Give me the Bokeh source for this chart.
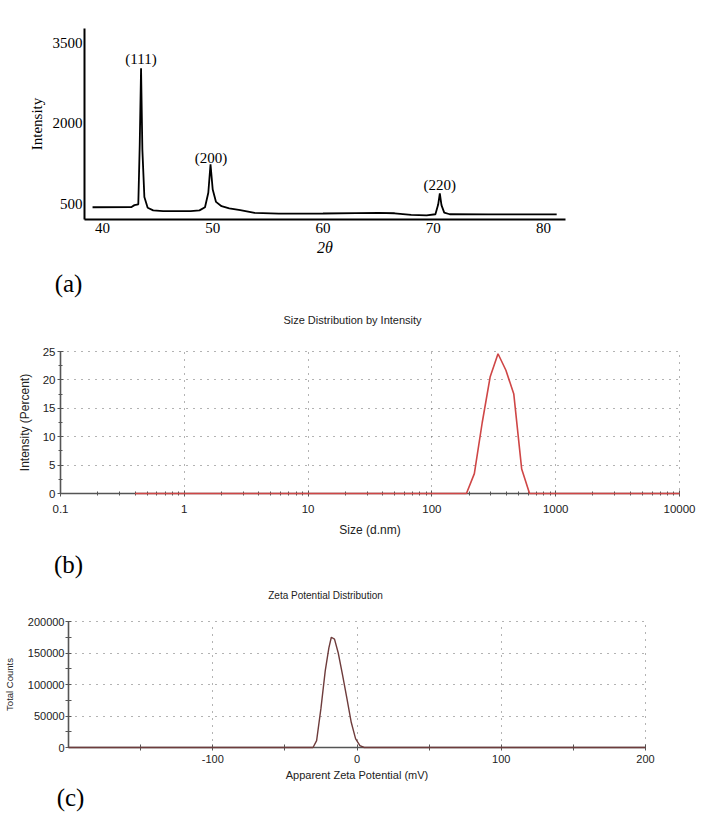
from bokeh.plotting import figure
from bokeh.models import Range1d, FixedTicker, CustomJSTickFormatter
from bokeh.embed import file_html
from bokeh.resources import INLINE
from bokeh.core.properties import value

# ---------------- data ----------------
# (a) XRD pattern
xrd_two_theta = [39.1, 42.6, 42.9, 43.25, 43.38, 43.5, 43.62, 43.8, 44.1, 44.6, 45.5, 48.0,
                 48.8, 49.3, 49.6, 49.8, 50.0, 50.3, 50.8, 51.5, 52.5, 53.8, 56.0, 60.0,
                 63.0, 65.0, 66.5, 68.0, 69.4, 70.2, 70.45, 70.6, 70.75, 71.0, 71.5, 75.0, 81.2]
xrd_intensity = [430, 432, 470, 485, 1600, 3020, 1500, 620, 420, 372, 357, 358,
                 372, 430, 700, 1230, 760, 530, 450, 410, 375, 325, 312, 314,
                 322, 326, 318, 290, 278, 300, 480, 690, 470, 330, 300, 296, 296]
xrd_peak_labels = ["(111)", "(200)", "(220)"]
xrd_peak_label_x = [43.5, 49.85, 70.6]
xrd_peak_label_y = [3185, 1340, 840]
xrd_x_ticks = [40, 50, 60, 70, 80]
xrd_y_ticks = [500, 2000, 3500]

# (b) DLS size distribution
size_nm = [0.4, 190.1, 220.2, 255.0, 295.3, 342.0, 396.1, 458.7, 531.2, 615.1, 10000]
size_intensity = [0, 0, 3.5, 12.5, 20.5, 24.6, 21.7, 17.5, 4.3, 0, 0]
size_ticks = [0.1, 1, 10, 100, 1000, 10000]
size_minor_ticks = [m * d for d in [0.1, 1, 10, 100, 1000] for m in range(2, 10)]
size_y_ticks = [0, 5, 10, 15, 20, 25]
size_y_minor = [2.5, 7.5, 12.5, 17.5, 22.5]

# (c) zeta potential distribution
zeta_mv = [-200, -30.5, -28, -25, -22, -19.5, -17.8, -15.6, -13, -10, -7, -4, -1, 2, 5, 200]
zeta_counts = [0, 0, 11000, 62000, 122000, 158000, 175000, 172000, 150000, 115000,
               78000, 40000, 14000, 3000, 0, 0]
zeta_x_ticks = [-100, 0, 100, 200]
zeta_x_minor = [-150, -50, 50, 150]
zeta_y_ticks = [0, 50000, 100000, 150000, 200000]
zeta_y_minor = [25000, 75000, 125000, 175000]

panel_letters = ["(a)", "(b)", "(c)"]
title_b = "Size Distribution by Intensity"
title_c = "Zeta Potential Distribution"

SERIF = "Liberation Serif"
SANS = "Liberation Sans"
W = 709
PLAIN = CustomJSTickFormatter(code="return tick.toString()")


def strip(h):
    f = figure(width=W, height=h, x_range=Range1d(0, W), y_range=Range1d(h, 0),
               x_axis_type=None, y_axis_type=None, output_backend="svg",
               toolbar_location=None, min_border=0)
    f.outline_line_color = None
    return f


def style_instrument_axes(fig, tick_size, out_minor):
    for ax in (fig.xaxis[0], fig.yaxis[0]):
        ax.axis_line_color = "#555555"
        ax.axis_line_width = 1.6
        ax.major_tick_line_color = "#555555"
        ax.minor_tick_line_color = "#555555"
        ax.major_tick_in = 3
        ax.major_tick_out = 3
        ax.minor_tick_in = out_minor
        ax.minor_tick_out = out_minor
        ax.major_label_text_font = SANS
        ax.major_label_text_font_size = tick_size
        ax.major_label_text_color = "#222222"
        ax.axis_label_text_font = SANS
        ax.axis_label_text_font_style = "normal"
        ax.axis_label_text_color = "#222222"
    for g in (fig.xgrid[0], fig.ygrid[0]):
        g.grid_line_color = "#666666"
        g.grid_line_dash = "1 6"
        g.grid_line_width = 1
    fig.outline_line_color = "#666666"
    fig.outline_line_dash = "1 6"
    fig.outline_line_width = 1


# ---------------- panel (a) : page y 0..262 ----------------
pa = figure(width=W, height=262, x_range=Range1d(38.37, 82.0), y_range=Range1d(202, 3761),
            output_backend="svg", toolbar_location=None,
            min_border_left=84, min_border_right=144, min_border_top=28, min_border_bottom=43)
pa.outline_line_color = None
pa.grid.visible = False
pa.line(xrd_two_theta, xrd_intensity, line_color="black", line_width=1.8)
pa.text(x=xrd_peak_label_x, y=xrd_peak_label_y, text=xrd_peak_labels,
        text_font=value(SERIF), text_font_size="15px", text_align="center",
        text_baseline="middle", text_color="black")
for ax in (pa.xaxis[0], pa.yaxis[0]):
    ax.axis_line_color = "black"
    ax.axis_line_width = 2
    ax.major_tick_line_color = None
    ax.minor_tick_line_color = None
    ax.major_tick_in = 0
    ax.major_tick_out = 0
    ax.minor_tick_in = 0
    ax.minor_tick_out = 0
    ax.major_label_text_font = SERIF
    ax.major_label_text_font_size = "15px"
    ax.major_label_text_color = "black"
    ax.axis_label_text_font = SERIF
    ax.axis_label_text_color = "black"
pa.xaxis.ticker = FixedTicker(ticks=xrd_x_ticks)
pa.yaxis.ticker = FixedTicker(ticks=xrd_y_ticks)
pa.xaxis.major_label_standoff = 3
pa.yaxis.major_label_standoff = 2
pa.xaxis.axis_label = "2θ"
pa.xaxis.axis_label_text_font_style = "italic"
pa.xaxis.axis_label_text_font_size = "16px"
pa.xaxis.axis_label_standoff = 3
pa.yaxis.axis_label = "Intensity"
pa.yaxis.axis_label_text_font_style = "normal"
pa.yaxis.axis_label_text_font_size = "15px"
pa.yaxis.axis_label_standoff = 5

# ---------------- strip: (a) + title of (b) : page y 262..336 ----------------
sab = strip(74)
sab.text(x=[68], y=[21], text=[panel_letters[0]], text_font=value(SERIF),
         text_font_size="25px", text_align="center", text_baseline="middle", text_color="black")
sab.text(x=[352], y=[57], text=[title_b], text_font=value(SANS),
         text_font_size="11px", text_align="center", text_baseline="middle", text_color="#222222")

# ---------------- panel (b) : page y 336..545 ----------------
pb = figure(width=W, height=209, x_axis_type="log", x_range=Range1d(0.1, 10000),
            y_range=Range1d(0, 25), output_backend="svg", toolbar_location=None,
            min_border_left=60, min_border_right=30, min_border_top=15, min_border_bottom=52)
style_instrument_axes(pb, "11.5px", 2)
rb = pb.line(size_nm, size_intensity, line_color="#cf4646", line_width=1.6)
rb.level = "overlay"
pb.xaxis.ticker = FixedTicker(ticks=size_ticks, minor_ticks=size_minor_ticks)
pb.xaxis.formatter = PLAIN
pb.yaxis.ticker = FixedTicker(ticks=size_y_ticks, minor_ticks=size_y_minor)
pb.xaxis.major_label_standoff = 8
pb.yaxis.major_label_standoff = 2
pb.xaxis.axis_label = "Size (d.nm)"
pb.xaxis.axis_label_text_font_size = "12px"
pb.xaxis.axis_label_standoff = 7
pb.yaxis.axis_label = "Intensity (Percent)"
pb.yaxis.axis_label_text_font_size = "12px"
pb.yaxis.axis_label_standoff = 8

# ---------------- strip: (b) + title of (c) : page y 545..612 ----------------
sbc = strip(67)
sbc.text(x=[68], y=[19], text=[panel_letters[1]], text_font=value(SERIF),
         text_font_size="25px", text_align="center", text_baseline="middle", text_color="black")
sbc.text(x=[325], y=[50], text=[title_c], text_font=value(SANS),
         text_font_size="10px", text_align="center", text_baseline="middle", text_color="#222222")

# ---------------- panel (c) : page y 612..783 ----------------
pc = figure(width=W, height=171, x_range=Range1d(-200, 200), y_range=Range1d(0, 200000),
            output_backend="svg", toolbar_location=None,
            min_border_left=68, min_border_right=64, min_border_top=9, min_border_bottom=36)
style_instrument_axes(pc, "11px", 3)
rc = pc.line(zeta_mv, zeta_counts, line_color="#6e3c3c", line_width=1.4)
rc.level = "overlay"
pc.xaxis.ticker = FixedTicker(ticks=zeta_x_ticks, minor_ticks=zeta_x_minor)
pc.yaxis.ticker = FixedTicker(ticks=zeta_y_ticks, minor_ticks=zeta_y_minor)
pc.xaxis.formatter = PLAIN
pc.yaxis.formatter = PLAIN
pc.xaxis.major_label_standoff = 4
pc.yaxis.major_label_standoff = 1
pc.xaxis.axis_label = "Apparent Zeta Potential (mV)"
pc.xaxis.axis_label_text_font_size = "11px"
pc.xaxis.axis_label_standoff = 3
pc.yaxis.axis_label = "Total Counts"
pc.yaxis.axis_label_text_font_size = "9.5px"
pc.yaxis.axis_label_standoff = 10

# ---------------- strip: (c) : page y 783..814 ----------------
sc = strip(31)
sc.text(x=[70], y=[14], text=[panel_letters[2]], text_font=value(SERIF),
        text_font_size="25px", text_align="center", text_baseline="middle", text_color="black")

p = [pa, sab, pb, sbc, pc, sc]
open("out.html", "w").write(file_html(p, INLINE))
